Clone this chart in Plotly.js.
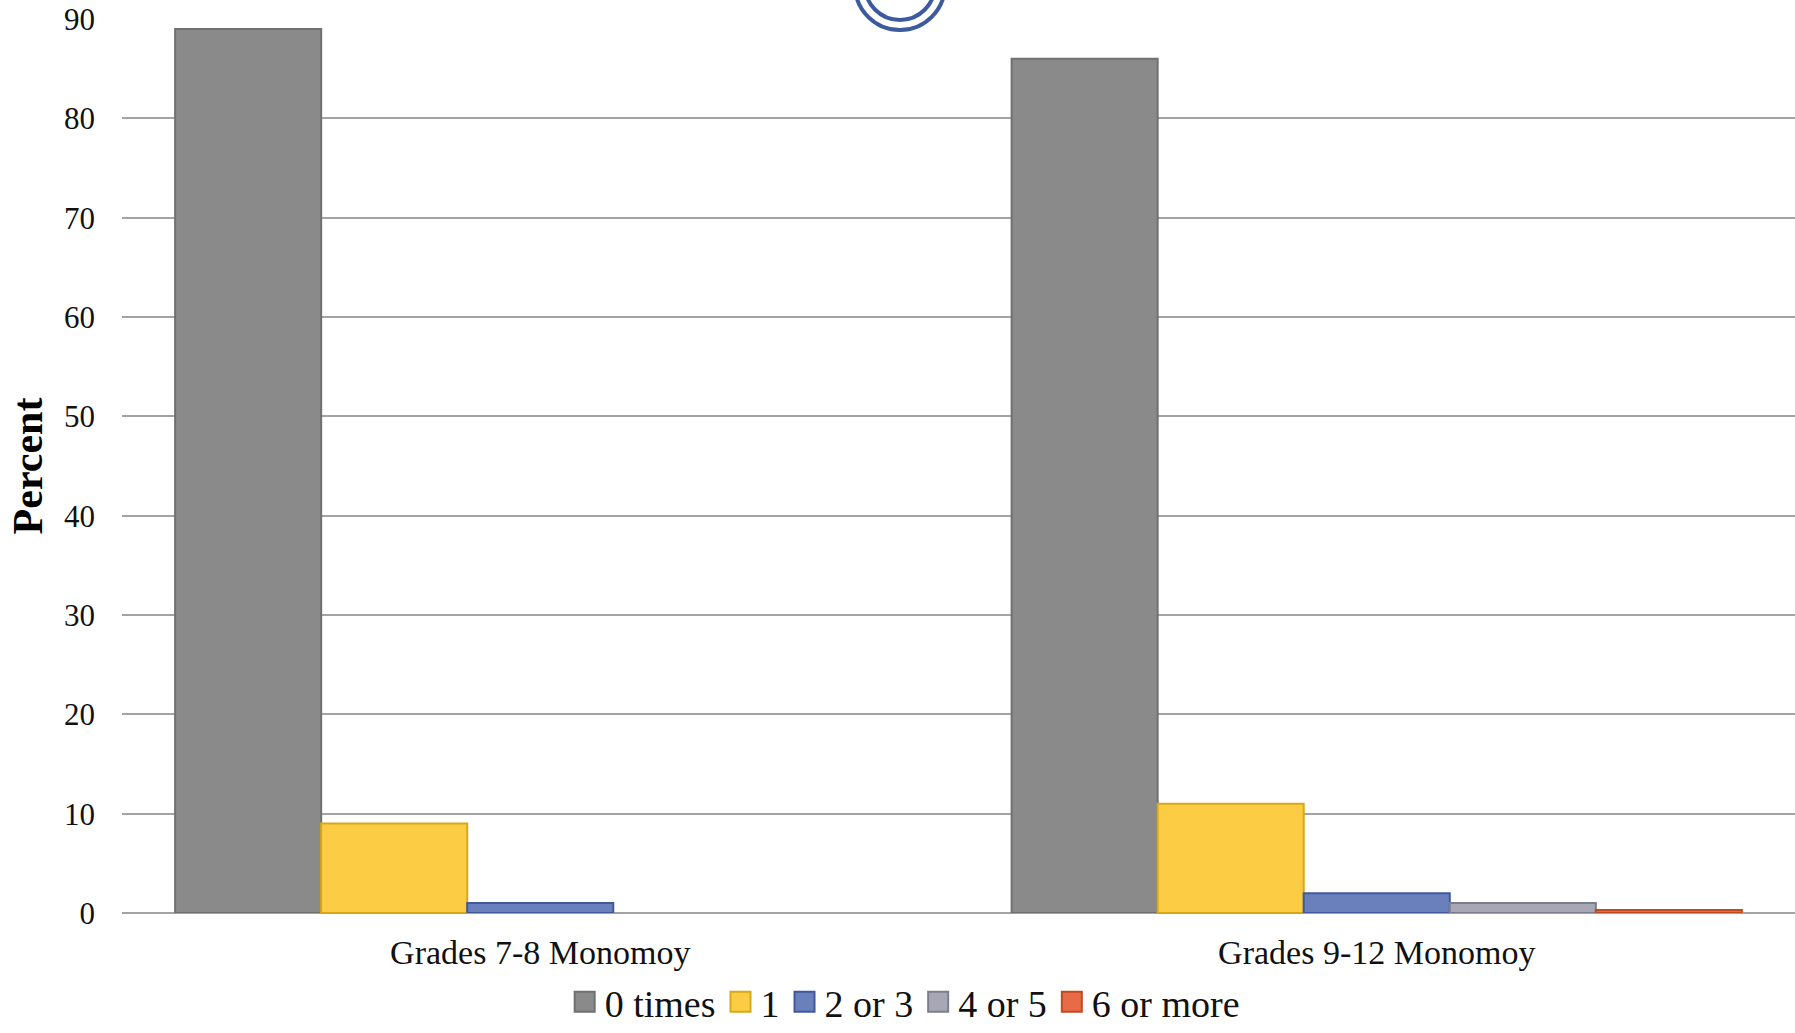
<!DOCTYPE html>
<html>
<head>
<meta charset="utf-8">
<script src="https://cdn.plot.ly/plotly-3.0.1.min.js"></script>
<style>html,body{margin:0;padding:0;background:#fff;}#chart{width:1795px;height:1033px;}</style>
</head>
<body>
<div id="chart"></div>
<script>
const categories = ["Grades 7-8 Monomoy", "Grades 9-12 Monomoy"];
const seriesNames = ["0 times", "1", "2 or 3", "4 or 5", "6 or more"];
const zeroTimes = [89, 86];
const once = [9, 11];
const twoOrThree = [1, 2];
const fourOrFive = [null, 1];
const sixOrMore = [null, 0.3];
const yTicks = [0, 10, 20, 30, 40, 50, 60, 70, 80, 90];

const seriesValues = [zeroTimes, once, twoOrThree, fourOrFive, sixOrMore];
const fills = ["#8a8a8a", "#fdcc45", "#6a80bd", "#a7a7b5", "#e86a48"];
const edges = ["#707070", "#d6a915", "#41599c", "#7d7d8c", "#c24a1f"];

const serif = "'Liberation Serif', 'DejaVu Serif', serif";

const traces = seriesNames.map((name, i) => ({
  type: "bar",
  name: name,
  x: categories,
  y: seriesValues[i],
  marker: { color: fills[i], line: { color: edges[i], width: 2 } },
  hoverinfo: "x+y+name"
}));

const layout = {
  width: 1795,
  height: 1033,
  margin: { l: 122, r: 0, t: 19, b: 120 },
  paper_bgcolor: "#ffffff",
  plot_bgcolor: "#ffffff",
  barmode: "group",
  bargap: 0.127,
  bargroupgap: 0,
  font: { family: serif, color: "#000000" },
  xaxis: {
    type: "category",
    showgrid: false,
    showline: false,
    zeroline: false,
    ticks: "",
    tickfont: { family: serif, size: 34, color: "#111111" },
    ticklabelstandoff: 16,
    automargin: false
  },
  yaxis: {
    range: [0, 90],
    tickvals: yTicks,
    ticktext: yTicks.map(String),
    showgrid: true,
    gridcolor: "#a3a3a3",
    gridwidth: 2,
    zeroline: true,
    zerolinecolor: "#a3a3a3",
    zerolinewidth: 2,
    showline: false,
    ticks: "",
    tickfont: { family: serif, size: 31, color: "#111111" },
    ticklabelstandoff: 26,
    automargin: false,
    title: { text: "<b>Percent</b>", font: { family: serif, size: 42, color: "#000000" }, standoff: 8 }
  },
  legend: {
    orientation: "h",
    xref: "container",
    yref: "container",
    x: 0.504,
    xanchor: "center",
    y: 0.03,
    yanchor: "middle",
    font: { family: serif, size: 38, color: "#111111" },
    itemwidth: 30,
    tracegroupgap: 0,
    bgcolor: "rgba(0,0,0,0)"
  },
  shapes: [
    { type: "circle", xref: "paper", yref: "paper", xsizemode: "pixel", ysizemode: "pixel",
      xanchor: 0.465, yanchor: 1.038, x0: -45, x1: 45, y0: -45, y1: 45,
      line: { color: "#3d5a9e", width: 4 }, fillcolor: "rgba(0,0,0,0)" },
    { type: "circle", xref: "paper", yref: "paper", xsizemode: "pixel", ysizemode: "pixel",
      xanchor: 0.465, yanchor: 1.038, x0: -35, x1: 35, y0: -35, y1: 35,
      line: { color: "#3d5a9e", width: 4 }, fillcolor: "rgba(0,0,0,0)" }
  ],
  showlegend: true
};

Plotly.newPlot("chart", traces, layout, { displayModeBar: false, staticPlot: true }).then(function (gd) {
  // enlarge legend swatches to match the reference's bigger squares
  gd.querySelectorAll(".legendpoints path").forEach(function (p) {
    p.setAttribute("d", "M-10,-10H10V10H-10Z");
  });
});
</script>
</body>
</html>
